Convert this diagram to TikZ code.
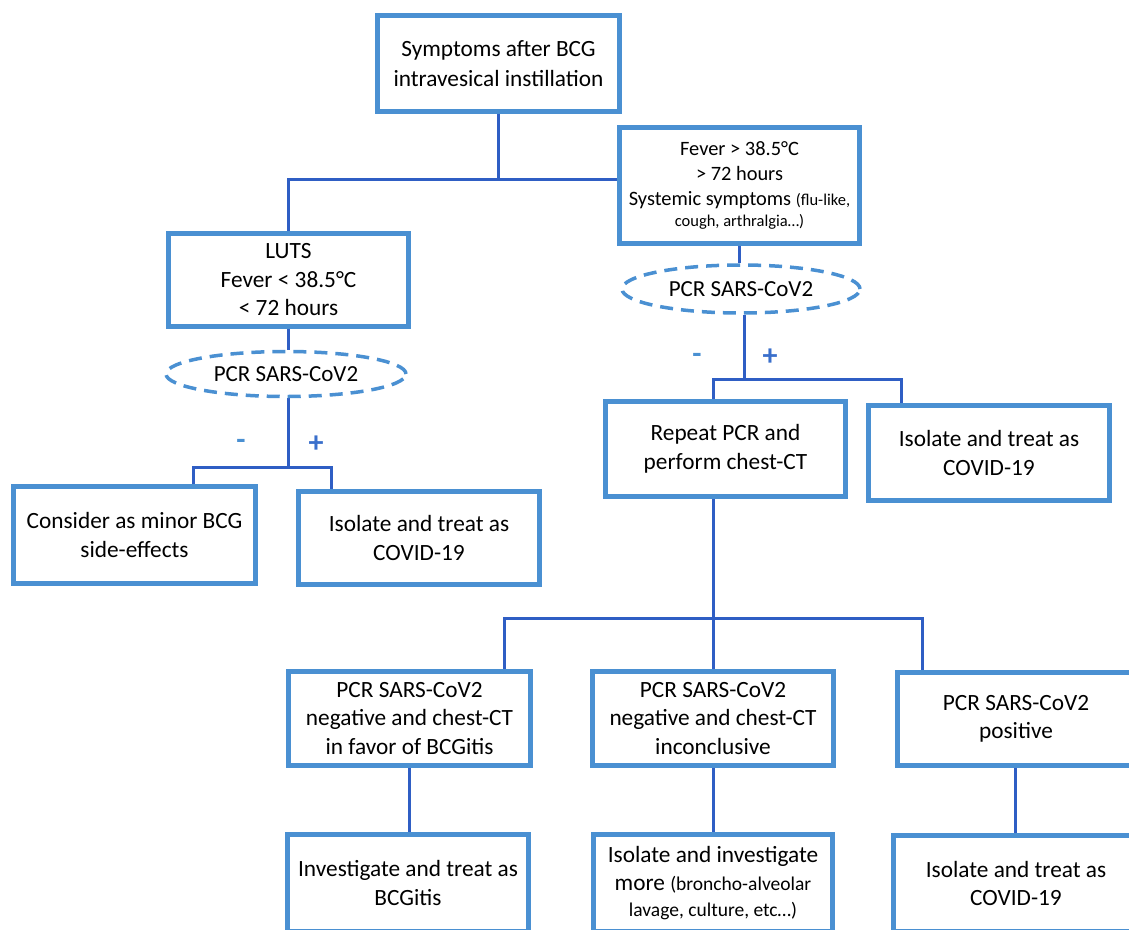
\documentclass[tikz,border=0pt]{standalone}
\usepackage{fontspec}
\setmainfont{Carlito}
\usetikzlibrary{shapes.geometric,backgrounds}
\definecolor{boxblue}{HTML}{4A90D2}
\definecolor{linkblue}{HTML}{2F5EC4}
\definecolor{signblue}{HTML}{3A6FCB}
\begin{document}
\begin{tikzpicture}[x=1pt,y=-1pt,
  box/.style={draw=boxblue,line width=5pt,fill=white,align=center,inner sep=0pt,font=\fontsize{23.3}{28.5}\selectfont},
  pcr/.style={ellipse,draw=boxblue,line width=3.5pt,dash pattern=on 13pt off 8pt,fill=white,inner sep=0pt,font=\fontsize{23}{26}\selectfont},
  link/.style={draw=linkblue,line width=3pt},
  sign/.style={inner sep=0pt,font=\fontsize{30}{30}\selectfont\bfseries}]
\useasboundingbox (0,0) rectangle (1129,929);
\clip (0,0) rectangle (1129,929);
% boxes
\node[box,minimum width=242pt,minimum height=96pt,font=\fontsize{23.3}{30}\selectfont] (top) at (498.5,63.5) {Symptoms after BCG\\intravesical instillation};
\node[box,minimum width=240pt,minimum height=116pt,font=\fontsize{20.4}{25}\selectfont] (fever) at (739.5,185.5)
  {Fever > 38.5°C\\> 72 hours\\Systemic symptoms {\fontsize{16.5}{20}\selectfont (flu-like,}\\[-4pt]{\fontsize{16.5}{20}\selectfont cough, arthralgia…)}};
\node[box,minimum width=240pt,minimum height=93pt] (luts) at (288.5,280) {LUTS\\Fever < 38.5°C\\< 72 hours};
\node[pcr,minimum width=240pt,minimum height=45pt] (pcrA) at (286,374) {PCR SARS-CoV2};
\node[pcr,minimum width=238pt,minimum height=48pt] (pcrB) at (741,289) {PCR SARS-CoV2};
\node[box,minimum width=242pt,minimum height=97pt] (consider) at (134.5,535) {Consider as minor BCG\\side-effects};
\node[box,minimum width=241pt,minimum height=93pt] (isoL) at (419,538) {Isolate and treat as\\COVID-19};
\node[box,minimum width=240pt,minimum height=95pt] (repeat) at (725.5,449) {Repeat PCR and\\perform chest-CT};
\node[box,minimum width=241pt,minimum height=95pt] (isoR) at (989,453) {Isolate and treat as\\COVID-19};
\node[box,minimum width=242pt,minimum height=94pt] (b1) at (409.5,718.5) {PCR SARS-CoV2\\negative and chest-CT\\in favor of BCGitis};
\node[box,minimum width=241pt,minimum height=94pt] (b2) at (713,718.5) {PCR SARS-CoV2\\negative and chest-CT\\inconclusive};
\node[box,minimum width=237pt,minimum height=93pt] (b3) at (1016,719) {PCR SARS-CoV2\\positive};
\node[box,minimum width=241pt,minimum height=97pt] (c1) at (408,883) {Investigate and treat as\\BCGitis};
\node[box,minimum width=239pt,minimum height=97pt] (c2) at (713,883)
  {Isolate and investigate\\more {\fontsize{19.5}{24}\selectfont (broncho-alveolar}\\[-3pt]{\fontsize{19.5}{24}\selectfont lavage, culture, etc…)}};
\node[box,minimum width=245pt,minimum height=96pt] (c3) at (1016,883.5) {Isolate and treat as\\COVID-19};
% signs
\node[sign,text=boxblue] (mA) at (241,444) {-};
\node[sign,text=signblue] (pA) at (316,444) {+};
\node[sign,text=boxblue] (mB) at (697,358) {-};
\node[sign,text=signblue] (pB) at (770,357) {+};
% junctions
\coordinate (j1) at (498.5,179);
\coordinate (j2) at (288,467);
\coordinate (j2a) at (193,467);
\coordinate (j2b) at (331,467);
\coordinate (j3) at (744,379);
\coordinate (j3a) at (713,379);
\coordinate (j3b) at (901,379);
\coordinate (j4) at (713,618);
\coordinate (j4a) at (504,618);
\coordinate (j4b) at (922,618);
\coordinate (k3) at (1015,0);
\begin{scope}[on background layer]
\draw[link] (top.south) -- (j1);
\draw[link] (luts.north) |- (j1) -- (j1 -| fever.west);
\draw[link] (luts.south) -- (luts.south |- pcrA.north);
\draw[link] (pcrA.south -| j2) -- (j2);
\draw[link] (consider.north -| j2a) -- (j2a) -- (j2b) -- (isoL.north -| j2b);
\draw[link] (fever.south) -- (fever.south |- pcrB.north);
\draw[link] (pcrB.south -| j3) -- (j3);
\draw[link] (repeat.north -| j3a) -- (j3a) -- (j3b) -- (isoR.north -| j3b);
\draw[link] (repeat.south -| j4) -- (j4);
\draw[link] (b1.north -| j4a) -- (j4a) -- (j4b) -- (b3.north -| j4b);
\draw[link] (j4) -- (b2.north);
\draw[link] (b1.south) -- (c1.north -| b1.south);
\draw[link] (b2.south) -- (c2.north);
\draw[link] (b3.south -| k3) -- (c3.north -| k3);
\end{scope}
\end{tikzpicture}
\end{document}
